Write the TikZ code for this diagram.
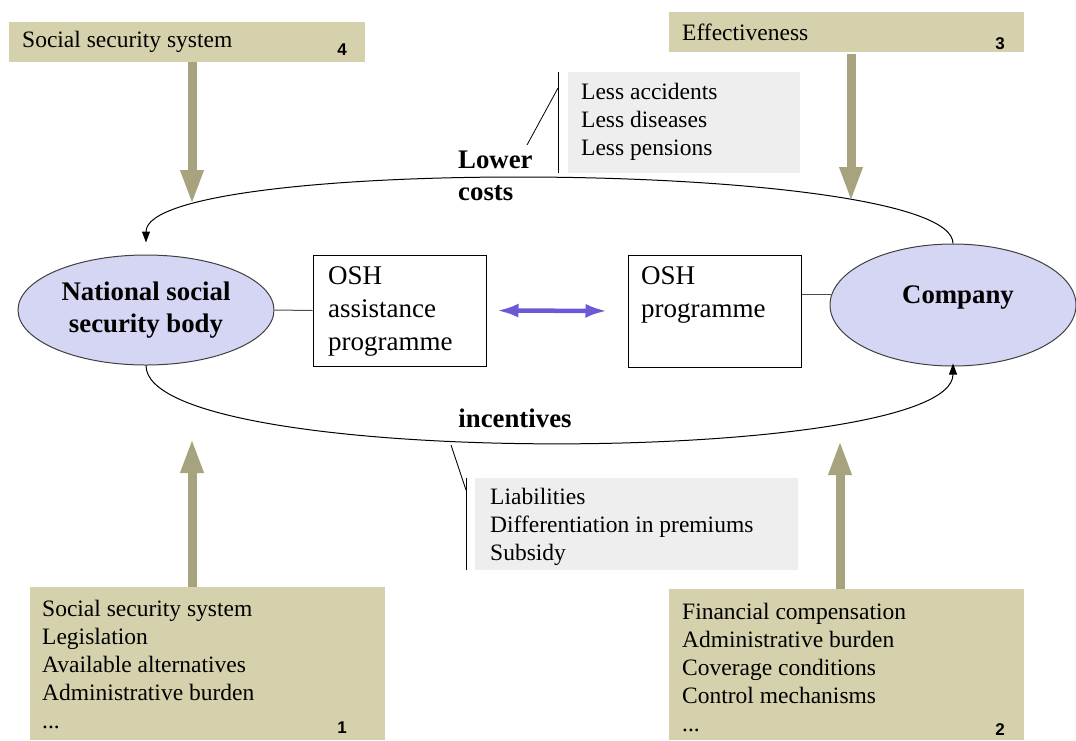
\documentclass[tikz,border=0pt]{standalone}
\usepackage{fontspec}
\setmainfont{Liberation Serif}
\newfontfamily\numfont{Liberation Sans}
\usetikzlibrary{arrows.meta,shapes.geometric,calc}
\definecolor{tan}{HTML}{D4D1AC}
\definecolor{tanarrow}{HTML}{A8A37F}
\definecolor{lightgray}{HTML}{EEEEEE}
\definecolor{lavender}{HTML}{D5D5F4}
\definecolor{osharrow}{HTML}{6A5AD6}
\tikzset{
  tanbox/.style={rectangle, fill=tan, draw=none, inner sep=0pt},
  graybox/.style={rectangle, fill=lightgray, draw=none, inner sep=0pt},
  plainbox/.style={rectangle, draw=black, line width=1pt, fill=white, inner sep=0pt},
  ellnode/.style={ellipse, draw=black!75, line width=1pt, fill=lavender, inner sep=0pt, align=center,
    font=\fontsize{26.8pt}{32pt}\selectfont\bfseries},
  listtxt/.style={anchor=west, inner sep=0pt, align=left, font=\fontsize{23.5pt}{28pt}\selectfont},
  boxtxt/.style={anchor=west, inner sep=0pt, align=left, font=\fontsize{27pt}{33pt}\selectfont},
  boldtxt/.style={inner sep=0pt, align=left, font=\fontsize{26.8pt}{32pt}\selectfont\bfseries},
  numtxt/.style={inner sep=0pt, font=\fontsize{17pt}{20pt}\selectfont\numfont\bfseries},
  bigarrow/.style={draw=tanarrow, line width=9pt, -{Triangle[length=35pt,width=21pt,color=tanarrow]}},
  arcline/.style={draw=black, line width=1pt, -{Triangle[length=11pt,width=8pt]}},
  thinline/.style={draw=black, line width=0.8pt}
}
\begin{document}
\begin{tikzpicture}[x=1pt,y=-1pt]
\useasboundingbox (0,0) rectangle (1076,740);

% top boxes
\node[tanbox, minimum width=356pt, minimum height=40pt] (b4) at (187,41.5) {};
\node[listtxt] (b4t) at (22,42) {Social security system};
\node[numtxt] (b4n) at (342,50) {4};

\node[tanbox, minimum width=355pt, minimum height=40pt] (b3) at (846.5,32) {};
\node[listtxt] (b3t) at (682,32) {Effectiveness};
\node[numtxt] (b3n) at (1000,44) {3};

% bottom boxes
\node[tanbox, minimum width=355pt, minimum height=153pt] (b1) at (207.5,663.5) {};
\node[listtxt] (b1t) at (42,664) {Social security system\\Legislation\\Available alternatives\\Administrative burden\\...};
\node[numtxt] (b1n) at (342,728) {1};

\node[tanbox, minimum width=355pt, minimum height=151pt] (b2) at (846.5,664.5) {};
\node[listtxt] (b2t) at (682,667) {Financial compensation\\Administrative burden\\Coverage conditions\\Control mechanisms\\...};
\node[numtxt] (b2n) at (1000,730) {2};

% gray boxes
\node[graybox, minimum width=232pt, minimum height=101pt] (less) at (684,122.5) {};
\node[listtxt] (lesst) at (581,121.5) {Less accidents\\Less diseases\\Less pensions};

\node[graybox, minimum width=323pt, minimum height=92pt] (liab) at (636.5,524) {};
\node[listtxt] (liabt) at (490,526.5) {Liabilities\\Differentiation in premiums\\Subsidy};

% ellipses
\node[ellnode, minimum width=256pt, minimum height=110pt] (nssb) at (146,310) {National social\\security body};
\node[ellnode, minimum width=246pt, minimum height=122pt] (comp) at (953,305) {};
\node[boldtxt] (compt) at (958,298) {Company};

% programme boxes
\node[plainbox, minimum width=173pt, minimum height=111pt] (osh1) at (399.5,310.5) {};
\node[boxtxt] (osh1t) at (328,311) {OSH\\assistance\\programme};
\node[plainbox, minimum width=173pt, minimum height=112pt] (osh2) at (714.5,311) {};
\node[boxtxt] (osh2t) at (641,294.5) {OSH\\programme};

% labels
\node[boldtxt, anchor=west] (lower) at (458,176) {Lower\\costs};
\node[boldtxt] (incent) at (515,418) {incentives};

% connectors between ellipses and boxes
\draw[line width=1pt, black!70] (nssb.east) -- (osh1.west);
\draw[line width=1pt, black!70] (comp.175.8) -- (comp.175.8 -| osh2.east);
\draw[line width=4.5pt, draw=osharrow,
  {Latex[length=22pt,width=14pt,color=osharrow]}-{Latex[length=22pt,width=14pt,color=osharrow]},
  shorten <=10pt, shorten >=20pt] (osh1.east) -- (osh2.west);

% arcs
\draw[arcline, shorten >=12pt] (comp.north) .. controls +(0,-84) and +(0,-100) .. (nssb.north);
\draw[arcline, shorten >=-3pt] (nssb.south) .. controls +(0,105) and +(0,100) .. (comp.south);

% big tan arrows
\coordinate (t4) at (192,205);
\coordinate (t3) at (851,202);
\coordinate (t1) at (192,438);
\coordinate (t2) at (840,440);
\draw[bigarrow] (b4.south -| t4) -- (t4);
\draw[bigarrow] ($(b3.south -| t3)+(0,2)$) -- (t3);
\draw[bigarrow] (b1.north -| t1) -- (t1);
\draw[bigarrow] (b2.north -| t2) -- (t2);

% callout lines
\coordinate (lv1) at (558,72);
\coordinate (lv2) at (558,173);
\coordinate (ls1) at (558,88);
\coordinate (ls2) at (527,145);
\draw[thinline] (lv1) -- (lv2);
\draw[thinline] (ls1) -- (ls2);
\coordinate (bv1) at (466,478);
\coordinate (bv2) at (466,570);
\coordinate (bs1) at (451,445);
\coordinate (bs2) at (466,490);
\draw[thinline] (bv1) -- (bv2);
\draw[thinline] (bs1) -- (bs2);
\end{tikzpicture}
\end{document}
